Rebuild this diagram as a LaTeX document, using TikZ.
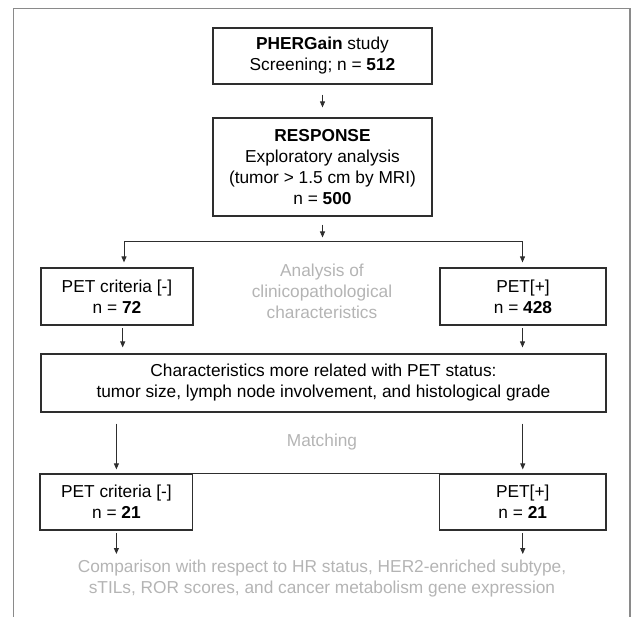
\documentclass[tikz,border=0pt]{standalone}
\usepackage{fontspec}
\setmainfont{Liberation Sans}
\usetikzlibrary{arrows.meta}
\definecolor{boxc}{HTML}{2E2E2E}
\definecolor{grayt}{HTML}{B4B4B4}
\definecolor{framec}{HTML}{8A8A8A}
\newcommand\myfs{\fontsize{17.3}{21}\selectfont}
\begin{document}
\begin{tikzpicture}[x=1pt,y=-1pt,
  box/.style={draw=boxc, line width=1.2pt, align=center, inner sep=0pt, font=\myfs, text=black},
  note/.style={align=center, inner sep=0pt, font=\myfs, text=grayt},
  arr/.style={draw=boxc, line width=0.9pt, -{Triangle[length=6pt,width=5pt]}},
  link/.style={draw=boxc, line width=1pt}]
\useasboundingbox (0,0) rectangle (631,617);
% outer frame (open at the bottom)
\draw[framec, line width=1.6pt] (13.3,617) -- (13.3,8.7) -- (630,8.7) -- (630,617);

\node[box, minimum width=219pt, minimum height=56pt] (b1) at (322.5,56)
  {\textbf{PHERGain} study\\Screening; n = \textbf{512}};
\node[box, minimum width=219pt, minimum height=98pt] (b2) at (322.5,167)
  {\textbf{RESPONSE}\\Exploratory analysis\\(tumor > 1.5 cm by MRI)\\n = \textbf{500}};
\node[box, minimum width=152pt, minimum height=57pt] (pneg1) at (117,296.5)
  {PET criteria [-]\\n = \textbf{72}};
\node[box, minimum width=166pt, minimum height=57pt] (ppos1) at (523,296.5)
  {PET[+]\\n = \textbf{428}};
\node[box, minimum width=565pt, minimum height=58pt] (wide) at (323.5,383)
  {Characteristics more related with PET status:\\tumor size, lymph node involvement, and histological grade};
\node[box, minimum width=152.7pt, minimum height=56pt] (pneg2) at (116.4,502)
  {PET criteria [-]\\n = \textbf{21}};
\node[box, minimum width=166.5pt, minimum height=56pt] (ppos2) at (522.75,502)
  {PET[+]\\n = \textbf{21}};

\node[note] (anl) at (322,291.5) {Analysis of\\clinicopathological\\characteristics};
\node[note] (match) at (322,442) {Matching};
\node[note] (cmp) at (322,578.5) {Comparison with respect to HR status, HER2-enriched subtype,\\sTILs, ROR scores, and cancer metabolism gene expression};

\coordinate (br) at (322.5,241.5);
\coordinate (bl) at (124,241.5);
\coordinate (bri) at (522.5,241.5);
\coordinate (cl) at (116.4,554);
\coordinate (cr) at (522.75,554);

\draw[arr, shorten <=10pt, shorten >=10pt] (b1.south) -- (b2.north);
\draw[arr, shorten <=8pt, shorten >=4pt] (b2.south) -- (br);
\draw[link] (bl) -- (bri);
\draw[arr, shorten >=5pt] (bl) -- (bl |- pneg1.north);
\draw[arr, shorten >=5pt] (bri) -- (bri |- ppos1.north);
\draw[arr, shorten <=2.5pt, shorten >=6pt] ([xshift=5.7pt]pneg1.south) -- ([xshift=5.7pt]pneg1.south |- wide.north);
\draw[arr, shorten <=2.5pt, shorten >=6pt] ([xshift=-0.5pt]ppos1.south) -- ([xshift=-0.5pt]ppos1.south |- wide.north);
\draw[arr, shorten <=11pt, shorten >=4pt] (pneg2.north |- wide.south) -- (pneg2.north);
\draw[arr, shorten <=11pt, shorten >=4pt] (ppos2.north |- wide.south) -- (ppos2.north);
\draw[link] (pneg2.north east) -- (ppos2.north west);
\draw[arr, shorten <=2.5pt] (pneg2.south) -- (cl);
\draw[arr, shorten <=2.5pt] (ppos2.south) -- (cr);
\end{tikzpicture}
\end{document}
